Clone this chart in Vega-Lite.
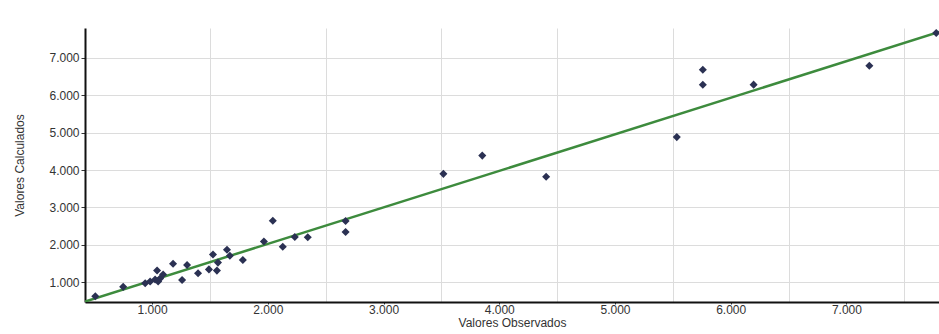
{
  "$schema": "https://vega.github.io/schema/vega-lite/v6.json",
  "width": 854,
  "height": 274,
  "autosize": {"type": "none"},
  "padding": {"left": 85, "top": 28, "right": 0, "bottom": 32},
  "background": "white",
  "config": {
    "locale": {"number": {"decimal": ",", "thousands": ".", "grouping": [3], "currency": ["", ""]}},
    "view": {"stroke": null},
    "axis": {"labelFont": "Liberation Sans", "titleFont": "Liberation Sans", "labelFontSize": 12, "titleFontSize": 12, "titleFontWeight": "normal", "labelColor": "#333", "titleColor": "#333", "domainColor": "#111", "domainWidth": 2, "tickColor": "#333", "gridColor": "#dcdcdc"}
  },
  "datasets": {
    "pts": [
      {"obs": 509, "calc": 622},
      {"obs": 750, "calc": 875},
      {"obs": 940, "calc": 972},
      {"obs": 983, "calc": 1020},
      {"obs": 1043, "calc": 1313},
      {"obs": 1069, "calc": 1099},
      {"obs": 1026, "calc": 1073},
      {"obs": 1095, "calc": 1206},
      {"obs": 1052, "calc": 1019},
      {"obs": 1181, "calc": 1492},
      {"obs": 1259, "calc": 1061},
      {"obs": 1302, "calc": 1459},
      {"obs": 1397, "calc": 1240},
      {"obs": 1491, "calc": 1342},
      {"obs": 1526, "calc": 1740},
      {"obs": 1560, "calc": 1310},
      {"obs": 1569, "calc": 1524},
      {"obs": 1647, "calc": 1866},
      {"obs": 1672, "calc": 1705},
      {"obs": 1784, "calc": 1593},
      {"obs": 1966, "calc": 2089},
      {"obs": 2043, "calc": 2645},
      {"obs": 2129, "calc": 1947},
      {"obs": 2233, "calc": 2208},
      {"obs": 2345, "calc": 2202},
      {"obs": 2672, "calc": 2637},
      {"obs": 2672, "calc": 2344},
      {"obs": 3517, "calc": 3898},
      {"obs": 3853, "calc": 4386},
      {"obs": 4405, "calc": 3823},
      {"obs": 5534, "calc": 4881},
      {"obs": 5759, "calc": 6682},
      {"obs": 5759, "calc": 6282},
      {"obs": 6198, "calc": 6285},
      {"obs": 7198, "calc": 6791},
      {"obs": 7776, "calc": 7666}
    ],
    "fit": [
      {"obs": 420, "calc": 481},
      {"obs": 7800, "calc": 7692}
    ]
  },
  "layer": [
    {
      "data": {"name": "fit"},
      "mark": {"type": "line", "color": "#3d8b3d", "strokeWidth": 2.5, "clip": true},
      "encoding": {
        "x": {"field": "obs", "type": "quantitative", "scale": {"domain": [420, 7800], "nice": false, "zero": false},
              "axis": {"orient": "bottom", "grid": true, "values": [1500, 2500, 3500, 4500, 5500, 6500, 7500], "labels": false, "ticks": false, "domain": false, "title": null}},
        "y": {"field": "calc", "type": "quantitative", "scale": {"domain": [470, 7800], "nice": false, "zero": false},
              "axis": {"grid": true, "values": [1000, 2000, 3000, 4000, 5000, 6000, 7000], "format": ",d", "tickSize": 4, "labelPadding": 2, "title": "Valores Calculados", "titlePadding": 22}}
      }
    },
    {
      "data": {"name": "pts"},
      "mark": {"type": "point", "shape": "diamond", "filled": true, "color": "#2b3153", "size": 65, "opacity": 1, "clip": true},
      "encoding": {
        "x": {"field": "obs", "type": "quantitative",
              "axis": {"orient": "bottom", "grid": false, "values": [1000, 2000, 3000, 4000, 5000, 6000, 7000], "format": ",d", "tickSize": 2, "labelPadding": 0, "title": "Valores Observados", "titlePadding": 2}},
        "y": {"field": "calc", "type": "quantitative"}
      }
    }
  ],
  "resolve": {"axis": {"x": "independent"}}
}
